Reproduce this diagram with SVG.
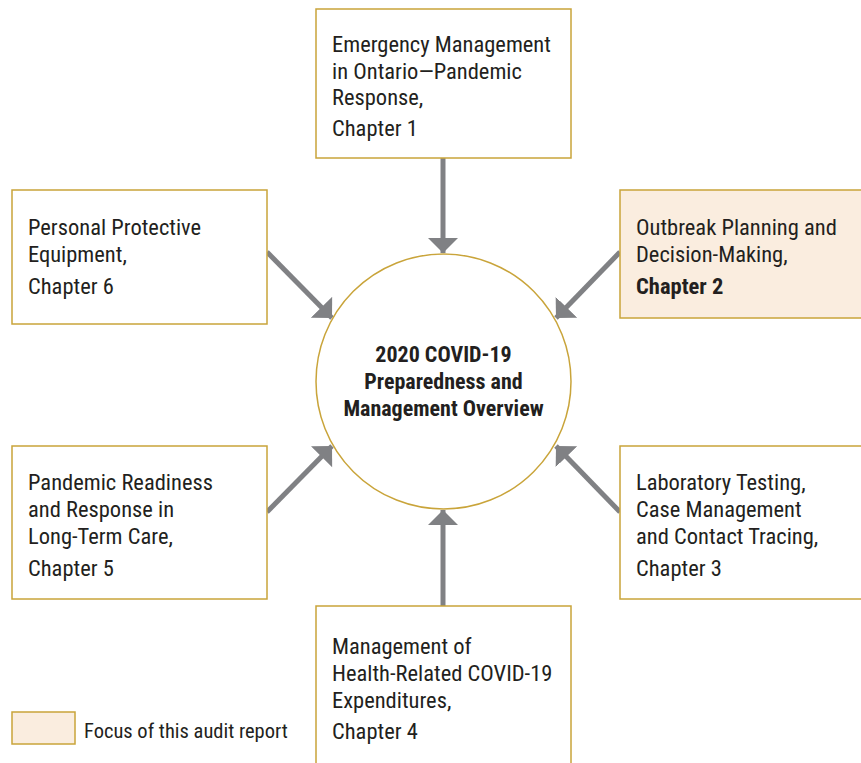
<svg xmlns="http://www.w3.org/2000/svg" width="861" height="763" viewBox="0 0 861 763">
<style>
.box{fill:#fff;stroke:#c9a43a;stroke-width:1.5}
.focus{fill:#faeddf;stroke:#c9a43a;stroke-width:1.5}
.t{font-family:"Roboto","Liberation Sans",sans-serif;font-size:22.5px;fill:#231f20;font-stretch:condensed}
.b{font-weight:bold}
.c{text-anchor:middle}
.arr{stroke:#808184;stroke-width:5;fill:none;marker-end:url(#ah)}
</style>
<defs>
<marker id="ah" markerUnits="userSpaceOnUse" markerWidth="16" markerHeight="31" refX="15" refY="15" orient="auto" viewBox="0 0 16 31">
<path d="M0,0 L15,15 L0,30 Z" fill="#808184"/>
</marker>
</defs>
<g id="connectors">
<line class="arr" x1="443" y1="158" x2="443" y2="253"/>
<line class="arr" x1="443" y1="606" x2="443" y2="510"/>
<line class="arr" x1="267" y1="252" x2="332" y2="318"/>
<line class="arr" x1="620" y1="252" x2="556" y2="318"/>
<line class="arr" x1="267" y1="512" x2="332" y2="446"/>
<line class="arr" x1="620" y1="512" x2="556" y2="446"/>
</g>
<g id="center">
<circle cx="443.5" cy="381.5" r="127.5" fill="#fff" stroke="#c9a43a" stroke-width="1.5"/>
<text class="t b c" x="443.5" y="362" style="font-size:22px">2020 COVID-19</text>
<text class="t b c" x="443.5" y="389" style="font-size:22px">Preparedness and</text>
<text class="t b c" x="443.5" y="416" style="font-size:22px">Management Overview</text>
</g>
<g id="ch1">
<rect class="box" x="316" y="9" width="255" height="149"/>
<text class="t" x="332" y="52">Emergency Management</text>
<text class="t" x="332" y="79">in Ontario—Pandemic</text>
<text class="t" x="332" y="105">Response,</text>
<text class="t" x="332" y="136">Chapter 1</text>
</g>
<g id="ch2">
<rect class="focus" x="620" y="190" width="242" height="128"/>
<text class="t" x="636" y="235">Outbreak Planning and</text>
<text class="t" x="636" y="262">Decision-Making,</text>
<text class="t b" x="636" y="294">Chapter 2</text>
</g>
<g id="ch6">
<rect class="box" x="12" y="190" width="255" height="134"/>
<text class="t" x="28" y="235">Personal Protective</text>
<text class="t" x="28" y="262">Equipment,</text>
<text class="t" x="28" y="294">Chapter 6</text>
</g>
<g id="ch5">
<rect class="box" x="12" y="446" width="255" height="153"/>
<text class="t" x="28" y="490">Pandemic Readiness</text>
<text class="t" x="28" y="517">and Response in</text>
<text class="t" x="28" y="544">Long-Term Care,</text>
<text class="t" x="28" y="576">Chapter 5</text>
</g>
<g id="ch3">
<rect class="box" x="620" y="446" width="242" height="153"/>
<text class="t" x="636" y="490">Laboratory Testing,</text>
<text class="t" x="636" y="517">Case Management</text>
<text class="t" x="636" y="544">and Contact Tracing,</text>
<text class="t" x="636" y="576">Chapter 3</text>
</g>
<g id="ch4">
<rect class="box" x="316" y="606" width="255" height="170"/>
<text class="t" x="332" y="654">Management of</text>
<text class="t" x="332" y="681">Health-Related COVID-19</text>
<text class="t" x="332" y="708">Expenditures,</text>
<text class="t" x="332" y="739">Chapter 4</text>
</g>
<g id="legend">
<rect class="focus" x="12" y="712" width="63" height="32"/>
<text class="t" x="84" y="738" style="font-size:20.5px">Focus of this audit report</text>
</g>
</svg>
